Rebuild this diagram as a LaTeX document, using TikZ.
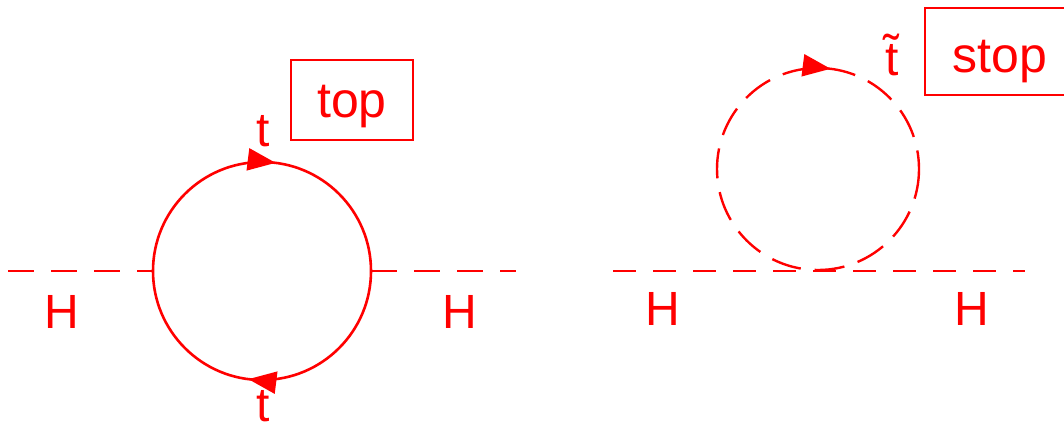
\documentclass[tikz,border=0pt]{standalone}
\usepackage{fontspec}
\setmainfont{Liberation Sans}
\usetikzlibrary{arrows.meta,decorations.markings}
\definecolor{fr}{RGB}{255,0,0}
\begin{document}
\begin{tikzpicture}[x=1pt,y=-1pt,
  every node/.style={text=fr},
  lab/.style={font=\fontsize{48}{56}\selectfont, anchor=base, inner sep=0pt},
  boxlab/.style={font=\fontsize{50}{58}\selectfont, anchor=base, inner sep=0pt},
  higgs/.style={draw=fr, line width=2.6pt, dash pattern=on 26pt off 17pt},
  fermion/.style={draw=fr, line width=2.6pt, postaction={decorate},
    decoration={markings,
      mark=at position 0.27 with {\arrow{>}},
      mark=at position 0.77 with {\arrow{>}}}},
  scalar/.style={draw=fr, line width=2.4pt, dash pattern=on 30pt off 14pt, postaction={decorate},
    decoration={markings, mark=at position 0.77 with {\arrow[solid]{>}}}},
  >={Triangle[length=28pt,width=22pt]}
]
\useasboundingbox (0,0) rectangle (1064,429);
% left diagram
\coordinate (c1) at (262,271);
\coordinate (vL) at (153,271);
\coordinate (vR) at (371,271);
\coordinate (eL) at (8,271);
\coordinate (eR) at (516,271);
\draw[higgs] (eL) -- (vL);
\draw[higgs] (vR) -- (eR);
\draw[fermion] (c1) circle[radius=109];
\node[lab] (tA) at (263,146) {t};
\node[lab] (tB) at (263,421) {t};
\node[lab] (H1) at (62,328) {H};
\node[lab] (H2) at (460,328) {H};
\coordinate (tb1) at (291,60);
\coordinate (tb2) at (413,140);
\draw[fr, line width=1.3pt] (tb1) rectangle (tb2);
\node[boxlab] (toptxt) at (352,117) {top};
% right diagram
\coordinate (c2) at (818,169);
\coordinate (eL2) at (613,271);
\coordinate (eR2) at (1025,271);
\draw[higgs, dash pattern=on 23pt off 17pt] (eL2) -- (eR2);
\draw[scalar] (c2) circle[radius=101];
\node[lab] (tst) at (892,75) {\~{t}};
\node[lab] (H3) at (663,325) {H};
\node[lab] (H4) at (972,325) {H};
\coordinate (sb1) at (925,8);
\coordinate (sb2) at (1070,95);
\draw[fr, line width=1.3pt] (sb1) rectangle (sb2);
\node[boxlab] (stoptxt) at (1000,72) {stop};
\end{tikzpicture}
\end{document}
